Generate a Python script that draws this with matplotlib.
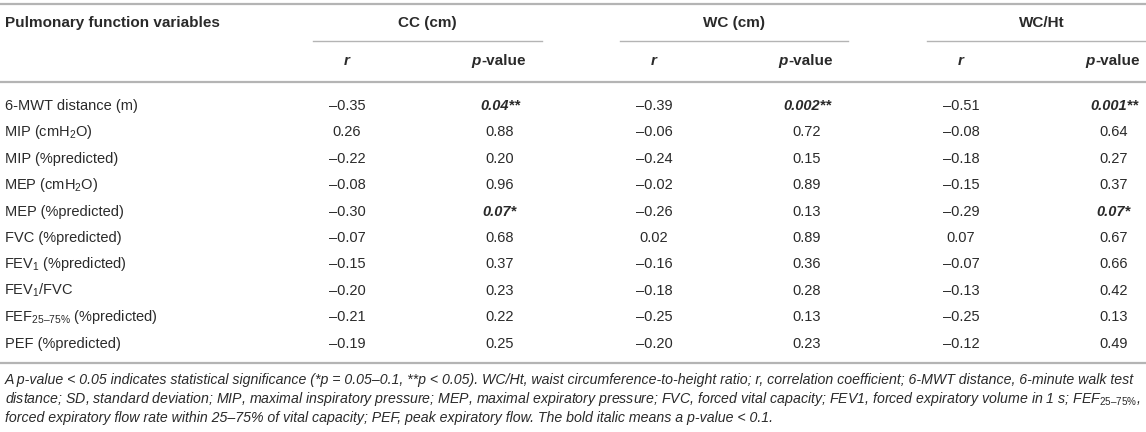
import matplotlib
matplotlib.use("Agg")
import matplotlib.pyplot as plt

plt.rcParams['font.family'] = ['Liberation Sans', 'DejaVu Sans']
plt.rcParams['mathtext.fontset'] = 'custom'
plt.rcParams['mathtext.rm'] = 'Liberation Sans'
plt.rcParams['mathtext.it'] = 'Liberation Sans:italic'
plt.rcParams['mathtext.bf'] = 'Liberation Sans:bold'

# table content
variables = ["6-MWT distance (m)", "MIP (cmH$_2$O)", "MIP (%predicted)", "MEP (cmH$_2$O)",
             "MEP (%predicted)", "FVC (%predicted)", "FEV$_1$ (%predicted)", "FEV$_1$/FVC",
             "FEF$_{25\u201375\\%}$ (%predicted)", "PEF (%predicted)"]
groups = ["CC (cm)", "WC (cm)", "WC/Ht"]
cc_r = [-0.35, 0.26, -0.22, -0.08, -0.30, -0.07, -0.15, -0.20, -0.21, -0.19]
cc_p = ["0.04**", "0.88", "0.20", "0.96", "0.07*", "0.68", "0.37", "0.23", "0.22", "0.25"]
wc_r = [-0.39, -0.06, -0.24, -0.02, -0.26, 0.02, -0.16, -0.18, -0.25, -0.20]
wc_p = ["0.002**", "0.72", "0.15", "0.89", "0.13", "0.89", "0.36", "0.28", "0.13", "0.23"]
wh_r = [-0.51, -0.08, -0.18, -0.15, -0.29, 0.07, -0.07, -0.13, -0.25, -0.12]
wh_p = ["0.001**", "0.64", "0.27", "0.37", "0.07*", "0.67", "0.66", "0.42", "0.13", "0.49"]

footnote = [
    "A p-value < 0.05 indicates statistical significance (*p = 0.05\u20130.1, **p < 0.05). WC/Ht, waist circumference-to-height ratio; r, correlation coefficient; 6-MWT distance, 6-minute walk test",
    "distance; SD, standard deviation; MIP, maximal inspiratory pressure; MEP, maximal expiratory pressure; FVC, forced vital capacity; FEV1, forced expiratory volume in 1 s; FEF$_{\\mathit{25\u201375\\%}}$,",
    "forced expiratory flow rate within 25\u201375% of vital capacity; PEF, peak expiratory flow. The bold italic means a p-value < 0.1.",
]

W, H = 1146, 432
fig = plt.figure(figsize=(W / 100, H / 100), dpi=100)
ax = fig.add_axes([0, 0, 1, 1])
ax.set_xlim(0, W)
ax.set_ylim(H, 0)
ax.axis('off')

txt = '#2a2a2a'
line_c = '#b4b4b4'
fs = 10.5
fs_head = 11

# column layout (pixel coords)
r_x = [347, 654, 961]
p_x = [500, 807, 1114]
grp_lines = [(313, 542), (620, 848), (927, 1146)]
row_y0, row_dy = 106, 26.4

# rules
ax.plot([0, W], [4, 4], color=line_c, lw=1.6)
ax.plot([0, W], [82, 82], color=line_c, lw=1.6)
ax.plot([0, W], [363, 363], color=line_c, lw=1.6)
for a, b in grp_lines:
    ax.plot([a, b], [41, 41], color=line_c, lw=1.0)

# header
ax.text(5, 23, "Pulmonary function variables", fontsize=fs_head, fontweight='bold',
        color=txt, ha='left', va='center')
for g, (a, b) in zip(groups, grp_lines):
    cx = (a + b) / 2 if b < W else a + (542 - 313) / 2
    ax.text(cx, 23, g, fontsize=fs_head, fontweight='bold', color=txt, ha='center', va='center')
for rx, px in zip(r_x, p_x):
    ax.text(rx, 61, "r", fontsize=fs_head, fontweight='bold', style='italic', color=txt,
            ha='center', va='center')
    ax.text(px - 19, 61, "p", fontsize=fs_head, fontweight='bold', style='italic', color=txt,
            ha='right', va='center')
    ax.text(px - 19, 61, "-value", fontsize=fs_head, fontweight='bold', color=txt,
            ha='left', va='center')


def fmt_r(v):
    return f"{v:.2f}".replace('-', '\u2013')


for i, name in enumerate(variables):
    y = row_y0 + i * row_dy
    x0 = 3.8 if '$' in name else 5
    ax.text(x0, y, name, fontsize=fs, color=txt, ha='left', va='center')
    for j, (rs, ps) in enumerate([(cc_r, cc_p), (wc_r, wc_p), (wh_r, wh_p)]):
        ax.text(r_x[j], y, fmt_r(rs[i]), fontsize=fs, color=txt, ha='center', va='center')
        sig = '*' in ps[i]
        ax.text(p_x[j], y, ps[i], fontsize=fs, color=txt, ha='center', va='center',
                fontweight='bold' if sig else 'normal', style='italic' if sig else 'normal')

# footnote, sized to span the table width
fn = [ax.text(5, 380 + k * 19, s, fontsize=9, style='italic', color=txt,
              ha='left', va='center') for k, s in enumerate(footnote)]
fig.canvas.draw()
w0 = fn[0].get_window_extent().width
for t in fn:
    t.set_fontsize(9 * 1137 / w0)

fig.savefig("out.png", dpi=100)
